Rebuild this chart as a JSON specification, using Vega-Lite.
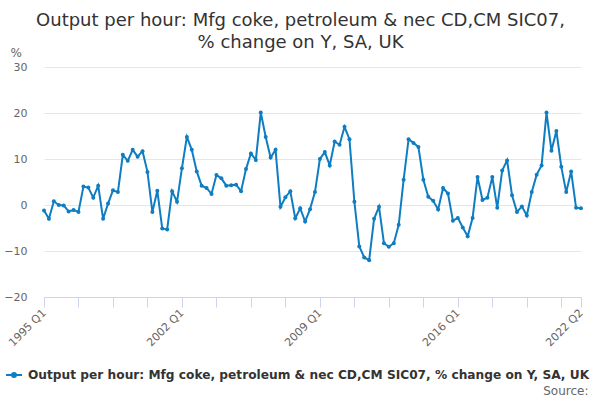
{
  "$schema": "https://vega.github.io/schema/vega-lite/v6.json",
  "width": 537,
  "height": 230,
  "autosize": "none",
  "padding": {"left": 44, "top": 67, "right": 19, "bottom": 103},
  "background": "white",
  "title": {
    "text": ["Output per hour: Mfg coke, petroleum & nec CD,CM SIC07,", "% change on Y, SA, UK"],
    "font": "DejaVu Sans",
    "fontSize": 18,
    "fontWeight": "normal",
    "color": "#333333",
    "lineHeight": 22,
    "anchor": "middle",
    "offset": 18,
    "dx": -12,
    "dy": 24
  },
  "data": {
    "values": [
      {"period": "1995 Q1", "value": -1.2}, {"period": "1995 Q2", "value": -3.0}, {"period": "1995 Q3", "value": 0.8}, {"period": "1995 Q4", "value": 0.0},
      {"period": "1996 Q1", "value": -0.1}, {"period": "1996 Q2", "value": -1.4}, {"period": "1996 Q3", "value": -1.1}, {"period": "1996 Q4", "value": -1.5},
      {"period": "1997 Q1", "value": 4.0}, {"period": "1997 Q2", "value": 3.8}, {"period": "1997 Q3", "value": 1.6}, {"period": "1997 Q4", "value": 4.2},
      {"period": "1998 Q1", "value": -3.0}, {"period": "1998 Q2", "value": 0.3}, {"period": "1998 Q3", "value": 3.2}, {"period": "1998 Q4", "value": 2.8},
      {"period": "1999 Q1", "value": 10.9}, {"period": "1999 Q2", "value": 9.6}, {"period": "1999 Q3", "value": 12.0}, {"period": "1999 Q4", "value": 10.5},
      {"period": "2000 Q1", "value": 11.7}, {"period": "2000 Q2", "value": 7.2}, {"period": "2000 Q3", "value": -1.5}, {"period": "2000 Q4", "value": 3.1},
      {"period": "2001 Q1", "value": -5.1}, {"period": "2001 Q2", "value": -5.3}, {"period": "2001 Q3", "value": 3.0}, {"period": "2001 Q4", "value": 0.7},
      {"period": "2002 Q1", "value": 8.0}, {"period": "2002 Q2", "value": 14.8}, {"period": "2002 Q3", "value": 12.0}, {"period": "2002 Q4", "value": 7.3},
      {"period": "2003 Q1", "value": 4.2}, {"period": "2003 Q2", "value": 3.7}, {"period": "2003 Q3", "value": 2.4}, {"period": "2003 Q4", "value": 6.5},
      {"period": "2004 Q1", "value": 5.8}, {"period": "2004 Q2", "value": 4.2}, {"period": "2004 Q3", "value": 4.3}, {"period": "2004 Q4", "value": 4.4},
      {"period": "2005 Q1", "value": 3.0}, {"period": "2005 Q2", "value": 7.8}, {"period": "2005 Q3", "value": 11.2}, {"period": "2005 Q4", "value": 9.8},
      {"period": "2006 Q1", "value": 20.1}, {"period": "2006 Q2", "value": 14.8}, {"period": "2006 Q3", "value": 10.3}, {"period": "2006 Q4", "value": 12.0},
      {"period": "2007 Q1", "value": -0.4}, {"period": "2007 Q2", "value": 1.7}, {"period": "2007 Q3", "value": 3.0}, {"period": "2007 Q4", "value": -2.9},
      {"period": "2008 Q1", "value": -0.7}, {"period": "2008 Q2", "value": -3.6}, {"period": "2008 Q3", "value": -0.9}, {"period": "2008 Q4", "value": 2.8},
      {"period": "2009 Q1", "value": 10.0}, {"period": "2009 Q2", "value": 11.5}, {"period": "2009 Q3", "value": 8.6}, {"period": "2009 Q4", "value": 13.8},
      {"period": "2010 Q1", "value": 13.1}, {"period": "2010 Q2", "value": 17.0}, {"period": "2010 Q3", "value": 14.3}, {"period": "2010 Q4", "value": 0.7},
      {"period": "2011 Q1", "value": -9.0}, {"period": "2011 Q2", "value": -11.4}, {"period": "2011 Q3", "value": -12.0}, {"period": "2011 Q4", "value": -3.0},
      {"period": "2012 Q1", "value": -0.4}, {"period": "2012 Q2", "value": -8.3}, {"period": "2012 Q3", "value": -9.1}, {"period": "2012 Q4", "value": -8.3},
      {"period": "2013 Q1", "value": -4.3}, {"period": "2013 Q2", "value": 5.5}, {"period": "2013 Q3", "value": 14.3}, {"period": "2013 Q4", "value": 13.5},
      {"period": "2014 Q1", "value": 12.6}, {"period": "2014 Q2", "value": 5.5}, {"period": "2014 Q3", "value": 1.8}, {"period": "2014 Q4", "value": 0.9},
      {"period": "2015 Q1", "value": -1.0}, {"period": "2015 Q2", "value": 3.7}, {"period": "2015 Q3", "value": 2.5}, {"period": "2015 Q4", "value": -3.4},
      {"period": "2016 Q1", "value": -2.8}, {"period": "2016 Q2", "value": -4.9}, {"period": "2016 Q3", "value": -6.8}, {"period": "2016 Q4", "value": -2.8},
      {"period": "2017 Q1", "value": 6.1}, {"period": "2017 Q2", "value": 1.1}, {"period": "2017 Q3", "value": 1.6}, {"period": "2017 Q4", "value": 6.1},
      {"period": "2018 Q1", "value": -0.6}, {"period": "2018 Q2", "value": 7.5}, {"period": "2018 Q3", "value": 9.7}, {"period": "2018 Q4", "value": 2.1},
      {"period": "2019 Q1", "value": -1.5}, {"period": "2019 Q2", "value": -0.3}, {"period": "2019 Q3", "value": -2.3}, {"period": "2019 Q4", "value": 2.8},
      {"period": "2020 Q1", "value": 6.6}, {"period": "2020 Q2", "value": 8.6}, {"period": "2020 Q3", "value": 20.1}, {"period": "2020 Q4", "value": 11.8},
      {"period": "2021 Q1", "value": 16.1}, {"period": "2021 Q2", "value": 8.3}, {"period": "2021 Q3", "value": 2.8}, {"period": "2021 Q4", "value": 7.3},
      {"period": "2022 Q1", "value": -0.6}, {"period": "2022 Q2", "value": -0.7}
    ]
  },
  "mark": {"type": "line", "strokeWidth": 2, "point": {"filled": true, "size": 16}},
  "encoding": {
    "x": {
      "field": "period",
      "type": "ordinal",
      "sort": null,
      "scale": {"type": "point", "padding": 0},
      "axis": {
        "values": ["1995 Q1", "1996 Q4", "1998 Q3", "2000 Q2", "2002 Q1", "2003 Q4", "2005 Q3", "2007 Q2", "2009 Q1", "2010 Q4", "2012 Q3", "2014 Q2", "2016 Q1", "2017 Q4", "2019 Q3", "2021 Q2", "2022 Q2"],
        "labelExpr": "indexof(['1995 Q1','2002 Q1','2009 Q1','2016 Q1','2022 Q2'], datum.value) >= 0 ? datum.value : ''",
        "labelAngle": -45,
        "labelAlign": "right",
        "labelBaseline": "middle",
        "labelFontSize": 11,
        "labelColor": "#666666",
        "labelOverlap": false,
        "labelPadding": 4,
        "tickColor": "#ccd6eb",
        "tickSize": 10,
        "domainColor": "#ccd6eb",
        "grid": false,
        "title": "Source:",
        "titleX": 544,
        "titleY": 97,
        "titleAlign": "right",
        "titleBaseline": "alphabetic",
        "titleFontSize": 12,
        "titleFontWeight": "normal",
        "titleColor": "#666666"
      }
    },
    "y": {
      "field": "value",
      "type": "quantitative",
      "scale": {"domain": [-20, 30]},
      "axis": {
        "values": [-20, -10, 0, 10, 20, 30],
        "title": "%",
        "titleAngle": 0,
        "titleX": -34,
        "titleY": -11,
        "titleAlign": "left",
        "titleBaseline": "alphabetic",
        "titleFontSize": 12,
        "titleFontWeight": "normal",
        "titleColor": "#666666",
        "domain": false,
        "ticks": false,
        "labelPadding": 17,
        "labelFontSize": 11,
        "labelColor": "#666666",
        "gridColor": "#e6e6e6"
      }
    },
    "color": {
      "datum": "Output per hour: Mfg coke, petroleum & nec CD,CM SIC07, % change on Y, SA, UK",
      "scale": {"range": ["#0f7dc2"]},
      "legend": {
        "orient": "none",
        "legendX": -39,
        "legendY": 299,
        "title": null,
        "padding": 0,
        "labelFontSize": 12.2,
        "labelFontWeight": "bold",
        "labelColor": "#333333",
        "labelLimit": 0,
        "labelOffset": 5,
        "symbolType": "M-1,0L1,0M-0.25,0A0.25,0.25 0 1,0 0.25,0A0.25,0.25 0 1,0 -0.25,0",
        "symbolSize": 256,
        "symbolStrokeWidth": 2,
        "symbolFillColor": "#0f7dc2"
      }
    }
  },
  "config": {
    "font": "DejaVu Sans",
    "view": {"stroke": null}
  }
}
